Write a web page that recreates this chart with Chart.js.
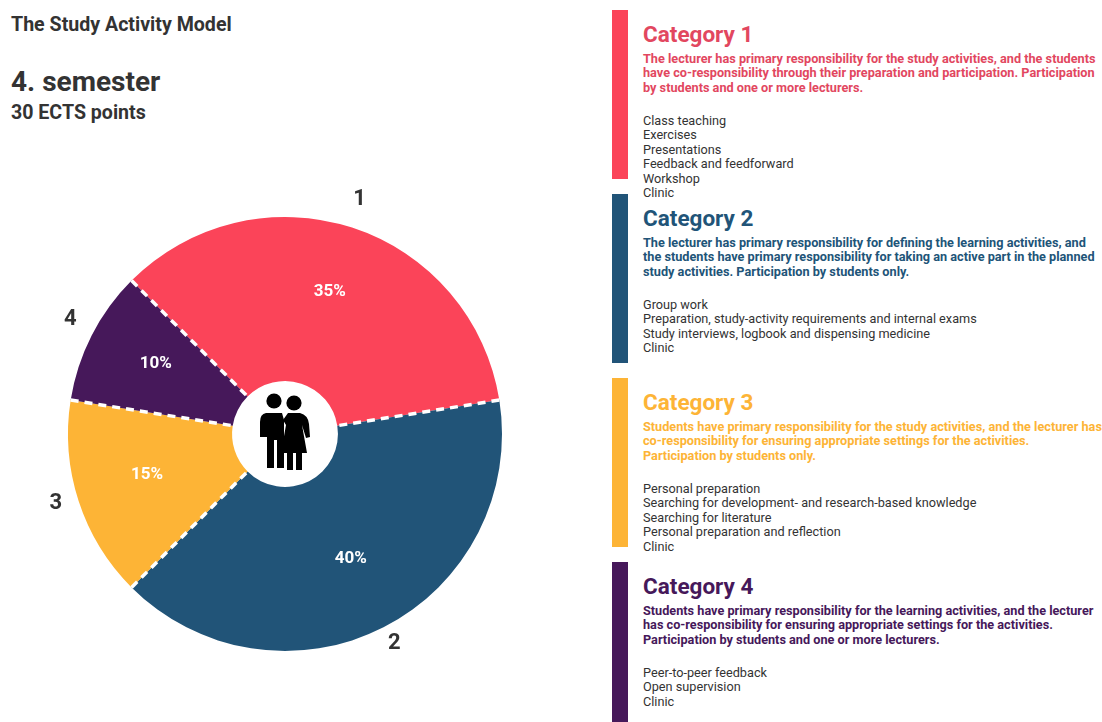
<!doctype html>
<html>

<head>
	<title>The Study Activity Model</title>
	<script src="https://cdn.jsdelivr.net/npm/chart.js@4/dist/chart.umd.min.js"></script>
	<style>
		html, body { margin: 0; padding: 0; background: #fff; overflow: hidden; }
		body { width: 1102px; height: 722px; position: relative; font-family: Roboto, sans-serif; color: #333; }
		.abs { position: absolute; white-space: nowrap; line-height: 1; }
		#holder { position: absolute; left: 0; top: 149px; width: 570px; height: 570px; }
		#people { position: absolute; left: 255px; top: 390px; }
		.bar { position: absolute; left: 612px; width: 16px; height: 169px; }
		.cat { position: absolute; left: 643px; white-space: nowrap; }
		.cat h2 { position: absolute; top: 11px; left: 0; margin: 0; font-size: 22.5px; line-height: 26px; font-weight: 700; }
		.cat .desc { position: absolute; top: 41.5px; left: 0; font-size: 12.7px; line-height: 14.7px; font-weight: 700; }
		.cat .items { position: absolute; top: 103.5px; left: 0; font-size: 12.7px; line-height: 14.6px; color: #333; }
	</style>
</head>

<body>
	<div class="abs" style="left:11px;top:15px;font-size:19.6px;font-weight:700;">The Study Activity Model</div>
	<div class="abs" style="left:11px;top:68px;font-size:28px;font-weight:700;">4. semester</div>
	<div class="abs" style="left:11px;top:103px;font-size:19.6px;font-weight:700;">30 ECTS points</div>

	<div id="holder"><canvas id="chart" width="570" height="570"></canvas></div>

	<svg id="people" width="60" height="85" viewBox="255 390 60 85">
		<g fill="#000">
			<circle cx="274" cy="401" r="7.6"/>
			<circle cx="294" cy="403" r="7.6"/>
			<path d="M266 413 H282 L284 420 V468 H277 V440 H274 V468 H267 V437 L264 437 H260 V422 Q260 414 266 413 Z"/>
			<path d="M288 413 H300 Q308 415 309 424 L310 437 L306 438 L302 425 L307 453 H302 V470 H296 V453 H293 V470 H287 V453 H281 L286 425 L283 420 Z"/>
		</g>
	</svg>

	<div id="panel"></div>

	<script>
		var sliceLabels = ['1', '2', '3', '4'];
		var shares = [35, 40, 15, 10];
		var sliceColors = ['#fb4459', '#215478', '#fdb436', '#46185a'];
		var headColors = ['#e2475f', '#215478', '#fdb436', '#46185a'];

		var catNames = ['Category 1', 'Category 2', 'Category 3', 'Category 4'];
		var catDesc = [
			['The lecturer has primary responsibility for the study activities, and the students', 'have co-responsibility through their preparation and participation. Participation', 'by students and one or more lecturers.'],
			['The lecturer has primary responsibility for defining the learning activities, and', 'the students have primary responsibility for taking an active part in the planned', 'study activities. Participation by students only.'],
			['Students have primary responsibility for the study activities, and the lecturer has', 'co-responsibility for ensuring appropriate settings for the activities.', 'Participation by students only.'],
			['Students have primary responsibility for the learning activities, and the lecturer', 'has co-responsibility for ensuring appropriate settings for the activities.', 'Participation by students and one or more lecturers.']
		];
		var catItems = [
			['Class teaching', 'Exercises', 'Presentations', 'Feedback and feedforward', 'Workshop', 'Clinic'],
			['Group work', 'Preparation, study-activity requirements and internal exams', 'Study interviews, logbook and dispensing medicine', 'Clinic'],
			['Personal preparation', 'Searching for development- and research-based knowledge', 'Searching for literature', 'Personal preparation and reflection', 'Clinic'],
			['Peer-to-peer feedback', 'Open supervision', 'Clinic']
		];

		var panelHtml = '';
		catNames.forEach(function(name, i) {
			var top = 10 + i * 184;
			var h = i === 3 ? 160 : 169;
			panelHtml += '<div class="bar" style="top:' + top + 'px;height:' + h + 'px;background:' + sliceColors[i] + '"></div>';
			panelHtml += '<div class="cat" style="top:' + top + 'px">';
			panelHtml += '<h2 style="color:' + headColors[i] + '">' + name + '</h2>';
			panelHtml += '<div class="desc" style="color:' + headColors[i] + '">' + catDesc[i].join('<br>') + '</div>';
			panelHtml += '<div class="items">' + catItems[i].join('<br>') + '</div>';
			panelHtml += '</div>';
		});
		document.getElementById('panel').innerHTML = panelHtml;

		// dashed dividers between slices, percentages inside, slice numbers outside
		var sliceText = {
			id: 'sliceText',
			afterDatasetsDraw: function(chart) {
				var ctx = chart.ctx;
				var arcs = chart.getDatasetMeta(0).data;
				ctx.save();
				ctx.strokeStyle = '#fff';
				ctx.lineWidth = 3.5;
				ctx.setLineDash([8, 6]);
				arcs.forEach(function(arc) {
					var a = arc.startAngle;
					ctx.beginPath();
					ctx.moveTo(arc.x + Math.cos(a) * arc.outerRadius, arc.y + Math.sin(a) * arc.outerRadius);
					ctx.lineTo(arc.x + Math.cos(a) * arc.innerRadius, arc.y + Math.sin(a) * arc.innerRadius);
					ctx.stroke();
				});
				ctx.restore();

				ctx.save();
				ctx.textAlign = 'center';
				ctx.textBaseline = 'middle';
				arcs.forEach(function(arc, i) {
					var mid = (arc.startAngle + arc.endAngle) / 2;
					ctx.font = '700 17px Roboto';
					ctx.fillStyle = '#fff';
					ctx.fillText(shares[i] + '%', arc.x + Math.cos(mid) * 145, arc.y + Math.sin(mid) * 145 - 4.5);
					ctx.font = '700 22px Roboto';
					ctx.fillStyle = '#333';
					ctx.fillText(sliceLabels[i], arc.x + Math.cos(mid) * 241, arc.y + Math.sin(mid) * 241 - 5);
				});
				ctx.restore();
			}
		};

		window.chart = new Chart(document.getElementById('chart'), {
			type: 'doughnut',
			data: {
				labels: sliceLabels,
				datasets: [{
					data: shares,
					backgroundColor: sliceColors,
					borderWidth: 0,
					hoverOffset: 0
				}]
			},
			options: {
				responsive: false,
				animation: false,
				rotation: -45,
				radius: 217,
				cutout: '24.4%',
				plugins: {
					legend: { display: false },
					tooltip: { enabled: false }
				}
			},
			plugins: [sliceText]
		});
	</script>
</body>

</html>
